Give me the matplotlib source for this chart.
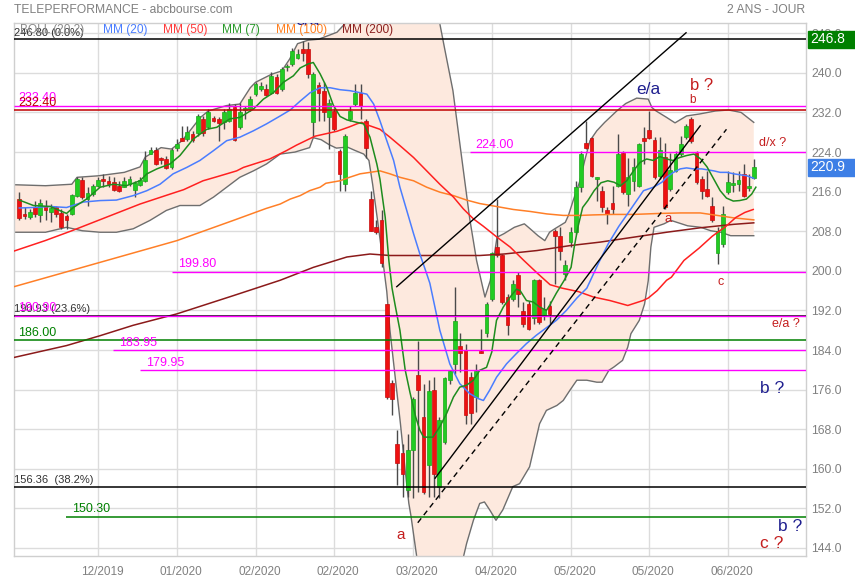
import matplotlib
matplotlib.use('Agg')
import matplotlib.pyplot as plt
import matplotlib.transforms as mtransforms
from matplotlib.patches import Rectangle
import numpy as np

plt.rcParams['font.family'] = ['Liberation Sans', 'DejaVu Sans']

# ---------------- data ----------------
opens = [214.5, 211.5, 210.8, 213.0, 211.3, 213.2, 211.8, 212.8, 211.6, 211.0,
         211.5, 215.2, 218.4, 214.5, 215.5, 217.2, 218.6, 218.2, 217.9, 217.2,
         217.0, 217.5, 216.3, 217.4, 218.2, 223.7, 224.4, 222.8, 222.6, 220.9,
         224.9, 226.8, 226.6, 227.6, 227.8, 230.7, 229.0, 230.9, 230.7, 230.0,
         230.3, 233.2, 229.1, 232.6, 232.7, 235.8, 236.7, 236.7, 236.0, 239.2,
         236.7, 241.1, 241.8, 243.1, 244.8, 244.8, 230.0, 237.6, 236.4, 231.0,
         232.3, 224.3, 217.5, 230.7, 233.7, 236.0, 230.3, 214.5, 208.8, 210.2,
         193.2, 177.4, 165.0, 163.1, 155.7, 163.8, 178.9, 170.5, 160.7, 176.0,
         156.4, 165.4, 177.9, 181.2, 184.9, 184.1, 178.5, 174.5, 183.9, 187.4,
         194.4, 204.8, 203.1, 194.7, 194.4, 199.1, 191.9, 193.3, 190.5, 198.1,
         191.0, 192.9, 208.0, 207.1, 199.4, 205.8, 207.8, 217.0, 225.8, 226.8,
         218.5, 216.2, 212.2, 213.7, 217.2, 223.9, 215.5, 218.2, 217.2, 226.9,
         228.4, 226.4, 219.2, 223.1, 216.5, 220.2, 223.7, 227.0, 230.7, 223.9,
         218.6, 216.5, 213.2, 203.6, 205.5, 215.9, 217.4, 217.5, 219.6, 216.8,
         218.8]
highs = [215.9, 212.8, 212.5, 214.2, 214.5, 214.3, 213.5, 213.2, 212.5, 211.5,
         215.5, 218.9, 218.9, 216.9, 217.5, 218.9, 219.6, 219.2, 218.9, 218.2,
         218.9, 219.2, 218.2, 218.9, 224.3, 225.1, 225.1, 223.1, 223.3, 224.9,
         226.6, 229.3, 229.3, 228.3, 231.7, 231.3, 232.7, 231.3, 231.0, 232.7,
         234.0, 233.7, 234.0, 233.4, 235.4, 238.1, 238.1, 237.7, 240.1, 239.7,
         241.1, 241.8, 245.1, 244.8, 246.4, 246.2, 240.1, 238.1, 238.1, 234.7,
         233.0, 224.6, 227.6, 233.4, 237.7, 237.7, 230.7, 216.2, 210.2, 212.2,
         193.4, 177.9, 167.8, 165.0, 167.1, 174.5, 185.9, 177.2, 177.9, 178.5,
         170.5, 178.5, 179.9, 196.7, 187.4, 185.3, 179.5, 181.2, 188.3, 193.7,
         203.8, 214.5, 203.4, 195.4, 198.1, 199.7, 193.7, 194.0, 198.4, 198.4,
         194.7, 194.0, 208.5, 208.8, 202.1, 208.8, 218.2, 224.3, 230.3, 226.96,
         219.0, 217.2, 212.8, 217.2, 227.6, 224.3, 222.9, 222.9, 225.9, 229.0,
         232.3, 226.96, 226.96, 225.9, 223.9, 224.3, 227.3, 229.6, 231.0, 224.3,
         219.2, 220.2, 214.9, 208.8, 213.2, 220.2, 220.0, 220.2, 221.6, 219.6,
         222.6]
lows = [210.2, 210.5, 210.5, 210.8, 209.8, 210.2, 209.8, 210.8, 208.5, 208.5,
        211.2, 214.9, 214.5, 213.2, 215.2, 216.9, 216.9, 216.9, 216.2, 215.9,
        216.9, 217.2, 214.9, 217.2, 217.9, 223.6, 221.3, 221.5, 220.6, 220.6,
        224.3, 226.3, 226.3, 226.0, 227.3, 227.3, 228.6, 230.0, 226.3, 228.6,
        230.0, 226.3, 228.6, 230.7, 232.3, 235.4, 236.4, 235.4, 235.7, 235.7,
        236.4, 240.4, 241.4, 242.8, 242.5, 239.0, 227.0, 230.3, 230.3, 224.6,
        228.3, 216.2, 216.2, 230.3, 233.4, 230.7, 222.9, 208.1, 207.5, 200.7,
        174.2, 170.8, 156.7, 154.4, 154.4, 154.0, 155.4, 155.0, 154.4, 154.4,
        154.0, 165.0, 177.2, 179.2, 179.6, 169.1, 169.1, 171.5, 183.3, 186.6,
        194.0, 202.8, 193.4, 187.0, 194.0, 192.7, 188.6, 188.0, 189.3, 189.3,
        190.0, 189.3, 197.4, 202.1, 198.1, 204.8, 207.5, 215.9, 224.6, 218.9,
        214.2, 211.8, 209.5, 211.5, 216.9, 215.5, 213.2, 216.2, 216.9, 221.6,
        226.6, 218.6, 218.6, 212.5, 216.2, 219.9, 223.3, 226.6, 225.9, 217.6,
        214.5, 214.9, 209.8, 201.4, 204.8, 215.5, 215.9, 216.2, 214.9, 216.2,
        218.6]
closes = [210.7, 211.0, 211.8, 211.5, 213.7, 212.2, 212.6, 211.5, 208.8, 210.2,
          215.4, 218.6, 214.9, 215.7, 217.1, 218.3, 218.2, 217.5, 216.3, 216.1,
          218.2, 218.6, 217.7, 218.3, 222.3, 224.4, 221.6, 222.4, 220.8, 224.4,
          225.7, 226.3, 228.0, 226.5, 231.3, 227.8, 232.0, 230.2, 229.8, 232.0,
          232.8, 226.5, 232.1, 232.7, 234.7, 237.7, 237.4, 235.6, 239.4, 236.0,
          240.7, 241.4, 244.4, 243.9, 244.0, 239.7, 239.7, 235.9, 232.0, 234.0,
          228.6, 219.6, 227.3, 232.3, 236.0, 233.4, 224.9, 208.1, 207.8, 201.6,
          174.5, 174.2, 161.1, 159.0, 163.8, 174.2, 175.9, 155.4, 175.7, 159.0,
          169.9, 178.4, 179.8, 189.8, 183.3, 170.8, 171.2, 179.8, 183.3, 193.2,
          203.6, 203.1, 193.7, 189.0, 197.4, 195.4, 189.3, 188.3, 198.1, 189.7,
          192.3, 191.3, 207.1, 204.1, 201.1, 207.8, 217.0, 223.7, 224.9, 219.2,
          218.9, 212.8, 211.4, 212.5, 223.7, 215.9, 218.9, 220.9, 225.6, 226.3,
          226.9, 218.9, 224.4, 212.8, 220.3, 223.6, 225.6, 229.3, 226.3, 217.9,
          216.2, 215.2, 210.2, 208.1, 211.5, 217.9, 217.5, 218.4, 215.2, 217.0,
          220.9]

# Bollinger bands (session index, value)
boll_up_x = [-1.0, 5, 10, 11, 15, 20, 23, 24, 27, 29, 31, 32.5, 34.5, 36, 39.5, 42, 44, 45, 48, 50,
             51.5, 53, 55, 57, 59, 60.5, 62, 64, 67, 70, 73, 76, 78, 80, 81, 82.6, 84, 85.8, 87.1,
             88.7, 89.7, 91, 92.3, 94.3, 96.2, 97.3, 98.8, 100.1, 101, 102, 104, 104.6, 105.5,
             106.8, 107.7, 108.7, 110, 111.5, 112.8, 113.8, 115.5, 117.6, 119.8, 120.5, 121.3,
             123.3, 124.9, 127.1, 129.6, 132.6, 135.1, 137.5, 139.9]
boll_up = [217.4, 217.2, 217.5, 218.9, 219.2, 219.9, 221.0, 223.0, 224.9, 224.6, 226.3, 228.3,
           231.0, 232.3, 233.4, 233.7, 237.0, 238.1, 239.7, 240.4, 242.8, 245.9, 246.6, 246.8,
           247.6, 248.2, 249.9, 252.0, 256.0, 262.0, 265.0, 263.0, 258.0, 250.5, 245.0, 236.4,
           225.0, 210.5, 202.1, 194.7, 198.0, 206.8, 207.5, 208.8, 209.5, 208.5, 207.1, 206.1,
           207.8, 208.5, 209.8, 211.2, 214.2, 218.2, 222.3, 226.3, 228.3, 230.0, 231.3, 232.3,
           233.8, 234.9, 234.7, 233.0, 232.3, 231.0, 229.9, 231.3, 231.7, 232.3, 232.5, 232.0,
           230.0]
boll_lo_x = [-1.0, 5, 9, 12, 15.4, 18.5, 21.7, 24.9, 28, 30.6, 34.4, 37, 39.5, 42, 44.6, 47.1,
             49.7, 52.5, 55.3, 56, 57.5, 59, 60.4, 62.5, 64, 65.6, 66.6, 67.3, 68.2, 69.2, 70,
             70.6, 71.6, 72.6, 73.5, 74.2, 74.6, 76, 79, 82, 84.6, 85.2, 86.5, 87.7, 88.6, 89.6,
             90.8, 92.1, 94, 95.3, 97.2, 99.1, 100.4, 102.4, 103.6, 104.9, 106.2, 108.1, 110,
             111, 112.3, 113.3, 114.9, 115.9, 116.5, 118.1, 119.1, 119.8, 120.3, 120.9, 122.8,
             124.1, 127.3, 129.8, 131.7, 133.6, 135.5, 137.4, 139.9]
boll_lo = [207.8, 207.8, 208.8, 208.1, 207.8, 207.8, 208.5, 210.2, 212.2, 213.2, 213.2, 214.9,
           216.9, 218.9, 220.2, 221.6, 223.6, 224.0, 224.9, 226.9, 226.5, 225.5, 224.8, 225.0,
           224.3, 223.6, 222.3, 217.5, 210.5, 202.5, 195.8, 188.0, 178.5, 169.1, 159.7, 153.0,
           150.5, 140.0, 132.0, 135.0, 142.2, 144.9, 149.6, 153.0, 153.3, 151.7, 149.6, 151.7,
           156.4, 157.0, 160.4, 169.1, 171.8, 172.8, 173.8, 175.9, 177.9, 177.9, 177.5, 177.5,
           179.9, 180.6, 181.9, 184.6, 187.3, 190.0, 193.3, 198.0, 204.8, 208.8, 209.5, 210.2,
           209.1, 208.8, 208.1, 207.8, 207.1, 207.1, 207.1]

ma7_x = [0, 2.7, 5.9, 9, 10.3, 12.8, 15.4, 17.9, 20.4, 23, 24.3, 26.2, 28.7, 30.6, 33.1, 35.7,
         37.6, 40.1, 42, 44.6, 46.5, 48.4, 50.3, 52.2, 53.5, 55, 56, 57.3, 58.6, 59.8, 61.1, 62.4,
         64.3, 65.6, 66.8, 68.1, 68.7, 69.7, 70.4, 71.0, 71.6, 72.5, 73.5, 74.4, 75.5, 76.3, 77,
         78.8, 80.1, 81.4, 82.7, 83.9, 85.2, 86.5, 87.7, 89, 90, 90.9, 92.2, 93.5, 94.7, 95.4,
         96.6, 97.9, 99.1, 100.4, 101, 102.3, 103.8, 105.1, 105.7, 106.4, 107.3, 108.3, 109.5,
         110.8, 112.1, 113.3, 114.5, 115.7, 117, 118.2, 119.5, 120.8, 122, 123.3, 124.5, 125.8,
         127.1, 128.5, 129.8, 131, 132.3, 133.5, 134.7, 136, 137.2, 138.5, 139.5, 140.3]
ma7 = [214.3, 213.2, 213.0, 211.6, 212.8, 214.5, 216.9, 217.5, 217.2, 218.2, 219.6, 220.6,
       221.6, 223.3, 226.6, 228.6, 229.0, 230.7, 231.0, 232.7, 234.7, 236.0, 238.1, 239.4,
       241.0, 241.8, 242.1, 239.8, 237.0, 233.5, 231.2, 230.5, 230.0, 229.7, 227.0, 221.6,
       218.5, 210.8, 202.0, 196.5, 193.0, 188.0, 180.0, 175.5, 170.5, 167.8, 166.4, 166.4,
       168.5, 171.2, 174.5, 176.5, 176.9, 177.9, 179.9, 180.5, 183.6, 190.0, 192.7, 194.7,
       196.3, 196.0, 194.0, 193.7, 192.7, 192.0, 193.0, 195.5, 198.1, 200.7, 204.8, 208.8,
       212.8, 214.2, 216.2, 217.8, 218.2, 217.9, 217.2, 218.2, 220.2, 221.9, 222.6, 222.3,
       223.1, 222.6, 222.3, 222.9, 223.3, 223.6, 222.6, 221.0, 218.5, 216.2, 214.7, 214.1,
       214.2, 214.5, 215.5, 216.9]

ma20_x = [0, 2.7, 5.9, 9, 12.2, 15.4, 18.5, 21.7, 24.3, 26.8, 29.3, 31.9, 34.4, 37, 39.5, 42,
          44.6, 47.1, 49.7, 51.6, 53.5, 55.4, 57.3, 59.2, 61.1, 63, 64.9, 66.2, 67.5, 68.7, 70,
          71.3, 72.5, 73.8, 75.1, 76.3, 77.6, 78.2, 80.1, 82, 83.9, 85.8, 87.4, 88.4, 89.6, 90.9,
          92.8, 94.7, 96.6, 98.5, 100.4, 102.3, 104.2, 106.2, 108.1, 110.3, 112.2, 114.2, 116.3,
          117.6, 118.9, 120.8, 122.4, 123.3, 124.6, 125.9, 127.1, 128.4, 130, 132.3, 133.5,
          134.8, 136.1, 138.6, 139.9]
ma20 = [212.7, 212.8, 213.0, 212.8, 213.9, 214.2, 214.3, 215.2, 216.2, 217.5, 219.6, 220.9,
        222.3, 224.3, 226.3, 227.0, 228.3, 229.7, 231.3, 232.5, 234.3, 236.0, 237.0, 237.0,
        236.6, 236.4, 236.0, 235.7, 233.7, 230.3, 226.3, 222.3, 216.9, 212.2, 207.5, 203.4,
        199.4, 197.5, 188.0, 181.2, 177.2, 175.2, 174.2, 173.8, 175.9, 178.5, 181.2, 183.3,
        185.3, 187.0, 188.5, 190.0, 192.0, 194.5, 196.5, 201.5, 205.5, 209.0, 212.2, 214.2,
        216.2, 216.9, 217.9, 218.9, 219.9, 220.6, 220.8, 220.6, 220.6, 220.2, 219.9, 219.9,
        219.6, 219.2, 218.7]

ma50_x = [-1.0, 4.9, 10, 16.5, 23, 28.7, 31.3, 35, 37.6, 41.4, 42.7, 47.7, 50.9, 52.8, 56.3,
          60.5, 62.9, 64.3, 65.2, 66.8, 68.7, 70.6, 72.5, 75.1, 77.6, 80.1, 82.7, 84.6, 86.5,
          88.4, 91, 93.5, 96.1, 98.6, 101.1, 103.4, 106.5, 109.4, 112.5, 115.9, 118.8, 119.8,
          121.5, 123.3, 124.2, 126.6, 129.5, 132, 134.6, 136.5, 138.2, 139.8]
ma50 = [204.0, 206.1, 208.1, 210.8, 213.5, 215.5, 216.4, 218.2, 219.0, 220.2, 220.9, 222.6,
        224.3, 225.4, 227.2, 228.2, 229.1, 229.7, 230.0, 229.3, 228.6, 227.0, 225.3, 222.9,
        220.2, 217.5, 214.9, 212.5, 210.5, 209.0, 206.8, 204.8, 202.1, 199.6, 197.2, 196.5,
        195.8, 194.7, 194.0, 193.0, 194.0, 194.5, 196.0, 198.1, 198.7, 202.1, 204.6, 207.0,
        209.0, 210.8, 211.8, 212.4]

ma100_x = [-1.0, 30, 40.8, 47, 49.7, 51.6, 53.5, 55.3, 57.3, 58.4, 61.1, 62.9, 64.9, 66.8, 68.7,
           70.6, 72.5, 75.1, 77.6, 80.1, 82.7, 85.2, 87.7, 90.9, 94.1, 97.3, 100.5, 103.6, 106.8,
           109.3, 113, 117, 122, 126, 129.7, 132.3, 136.1, 139.9]
ma100 = [196.8, 206.1, 210.2, 212.6, 213.5, 214.5, 215.2, 216.2, 216.9, 217.7, 218.2, 218.9,
         219.6, 219.9, 220.2, 219.6, 218.9, 218.2, 216.9, 215.9, 215.2, 214.3, 213.6, 213.0,
         212.4, 212.0, 211.5, 211.2, 211.2, 211.3, 211.4, 211.4, 211.6, 211.7, 211.7, 211.3,
         210.7, 210.3]

ma200_x = [-1.0, 9, 15.4, 21.7, 30, 40.8, 49.7, 56, 62.4, 66.8, 70.6, 75.1, 81.4, 87.7, 92.3,
           98.6, 104.9, 110.6, 117, 123.3, 129.7, 136.1, 139.9]
ma200 = [182.5, 184.9, 186.9, 189.0, 191.3, 195.0, 198.1, 200.7, 202.8, 203.4, 203.1, 203.1,
         203.1, 203.1, 203.4, 204.1, 205.1, 205.8, 206.8, 207.8, 208.7, 209.4, 209.7]

# horizontal levels
levels = [246.80, 233.40, 232.40, 224.00, 199.80, 190.93, 190.90, 186.00, 183.95, 179.95, 156.36, 150.30]
level_texts = ['246.80 (0.0%)', '233.40', '232.40', '224.00', '199.80', '190.93 (23.6%)', '190.90',
               '186.00', '183.95', '179.95', '156.36  (38.2%)', '150.30']
level_start = [-1.01, -1.01, -1.01, 85.8, 29.1, -1.01, -1.01, -1.01, 17.85, 23.0, -1.01, 8.9]
level_colors = ['#000000', '#ff00ff', '#c00000', '#ff00ff', '#ff00ff', '#000000', '#ff00ff',
                '#008000', '#ff00ff', '#ff00ff', '#000000', '#008000']
level_text_colors = ['#333333', '#ff00ff', '#c00000', '#ff00ff', '#ff00ff', '#333333', '#ff00ff',
                     '#008000', '#ff00ff', '#ff00ff', '#333333', '#008000']

# trend lines (session index, price)
trend_solid_1 = ([71.9, 127.0], [196.8, 248.1])
trend_solid_2 = ([79.2, 129.7], [158.1, 229.3])
trend_dashed = ([75.9, 134.7], [149.1, 228.6])

xtick_pos = [15, 30, 45, 60, 75, 90, 105, 120, 135]
xtick_labels = ['12/2019', '01/2020', '02/2020', '02/2020', '03/2020', '04/2020', '05/2020', '05/2020', '06/2020']

annotations = [
    ('e/a', 119.9, 236.7, '#1f1f8f', 12.5),
    ('b ?', 130.0, 237.5, '#c41e1e', 12),
    ('b', 128.3, 234.6, '#c41e1e', 8.5),
    ('d/x ?', 143.4, 225.8, '#c41e1e', 9),
    ('a', 123.6, 210.5, '#c41e1e', 9.5),
    ('c', 133.5, 197.7, '#c41e1e', 9),
    ('e/a ?', 146.0, 189.3, '#c41e1e', 9),
    ('b ?', 143.4, 176.3, '#1f1f8f', 12.5),
    ('b ?', 146.8, 148.4, '#1f1f8f', 12.5),
    ('c ?', 143.4, 145.0, '#c41e1e', 12.5),
    ('a', 72.7, 146.6, '#c41e1e', 11),
]

# ---------------- figure ----------------
W, H = 855, 580
fig = plt.figure(figsize=(W / 100, H / 100), dpi=100)
fig.patch.set_facecolor('white')
ax = fig.add_axes([14 / W, 24 / H, 792 / W, 533.3 / H])
ax.set_xlim(-1.01, 149.85)
ax.set_ylim(142.38, 250.14)

# grid
ax.set_yticks(np.arange(144, 249, 8))
ax.set_yticklabels([f'{v:.1f}' for v in np.arange(144, 249, 8)])
ax.set_xticks(xtick_pos)
ax.set_xticklabels(xtick_labels)
ax.grid(True, color='#dcdcdc', lw=1, zorder=0)
ax.set_axisbelow(True)
ax.yaxis.tick_right()
ax.tick_params(axis='y', length=0, pad=4, labelsize=8.8, labelcolor='#808080')
ax.tick_params(axis='x', length=0, pad=7, labelsize=8.5, labelcolor='#808080')
shift = mtransforms.ScaledTranslation(4 / 100, 0, fig.dpi_scale_trans)
for lbl in ax.get_xticklabels():
    lbl.set_transform(lbl.get_transform() + shift)
for s in ax.spines.values():
    s.set_color('#cfcfcf')
    s.set_linewidth(1)

# Bollinger band fill + lines
ux = np.array(boll_up_x); uy = np.array(boll_up)
lx = np.array(boll_lo_x); ly = np.array(boll_lo)
ax.fill(np.r_[ux, lx[::-1]], np.r_[uy, ly[::-1]], color='#fde9de', lw=0, zorder=1)
ax.plot(ux, uy, color='#6e6e6e', lw=1, zorder=2)
ax.plot(lx, ly, color='#6e6e6e', lw=1, zorder=2)

# candles
idx = np.arange(len(opens))
o = np.array(opens); h = np.array(highs); l = np.array(lows); c = np.array(closes)
up = c >= o
ax.vlines(idx, l, h, color='#4a4a4a', lw=1, zorder=3)
bw = 0.7
body_lo = np.minimum(o, c)
body_h = np.maximum(np.abs(c - o), 0.25)
ax.bar(idx[up], body_h[up], bottom=body_lo[up], width=bw, color='#22cc22',
       edgecolor='#1aa51a', lw=0.5, zorder=3.5)
ax.bar(idx[~up], body_h[~up], bottom=body_lo[~up], width=bw, color='#ee1111',
       edgecolor='#c40c0c', lw=0.5, zorder=3.5)

# moving averages
ax.plot(ma200_x, ma200, color='#8b1a1a', lw=1.1, zorder=4)
ax.plot(ma100_x, ma100, color='#ff7f27', lw=1.1, zorder=4)
ax.plot(ma50_x, ma50, color='#ff2020', lw=1.1, zorder=4)
ax.plot(ma20_x, ma20, color='#4a7dff', lw=1.1, zorder=4)
ax.plot(ma7_x, ma7, color='#1e8c1e', lw=1.1, zorder=4)

# horizontal levels
xmax = ax.get_xlim()[1]
for lev, txt, st, col, tcol in zip(levels, level_texts, level_start, level_colors, level_text_colors):
    ax.plot([st, xmax], [lev, lev], color=col, lw=1.1 if col != '#ff00ff' else 1.0, zorder=4.5,
            solid_capstyle='butt')
    fib = '%' in txt
    dx = 0 if fib else (4 if st > 0 else 3)
    ax.annotate(txt, xy=(st, lev), xytext=(dx, 1), textcoords='offset points', va='bottom',
                ha='left', color=tcol, fontsize=8 if fib else 9, zorder=6)

# trend lines
ax.plot(*trend_solid_1, color='black', lw=1, zorder=4.6)
ax.plot(*trend_solid_2, color='black', lw=1, zorder=4.6)
ax.plot(*trend_dashed, color='black', lw=1, ls=(0, (4, 3)), zorder=4.6)

# annotations
for txt, xi, yv, col, fs in annotations:
    ax.text(xi, yv, txt, color=col, fontsize=fs, ha='center', va='center', zorder=7)
ax.text(54.8, 249.6, 'e/a', color='#1f1f8f', fontsize=12.5, ha='center', va='baseline',
        zorder=7, clip_on=True)

# title and legend
fig.text(14 / W, 1 - 10 / H, 'TELEPERFORMANCE - abcbourse.com', color='#808080', fontsize=8.7, va='center')
fig.text(805 / W, 1 - 10 / H, '2 ANS - JOUR', color='#808080', fontsize=8.7, va='center', ha='right')
legend_items = [('BOLL (20,2)', '#8a8a8a', 20), ('MM (20)', '#4a7dff', 103), ('MM (50)', '#ff3b3b', 163),
                ('MM (7)', '#2a9a2a', 222), ('MM (100)', '#ff8020', 276), ('MM (200)', '#8b2020', 342)]
for txt, col, xp in legend_items:
    fig.text(xp / W, 1 - 30 / H, txt, color=col, fontsize=8.6, va='center', ha='left', zorder=8)

# last price / level boxes on the right axis
trans = mtransforms.blended_transform_factory(fig.transFigure, ax.transData)
for val, col in [(246.8, '#008000'), (220.9, '#3d7fe6')]:
    ax.add_patch(Rectangle((808 / W, val - 1.75), 47 / W, 3.5, transform=trans, color=col,
                           clip_on=False, zorder=10))
    ax.text(810 / W, val, f'{val:.1f}', transform=trans, color='white', fontsize=10,
            va='center', ha='left', clip_on=False, zorder=11)

fig.savefig('out.png', dpi=100)
